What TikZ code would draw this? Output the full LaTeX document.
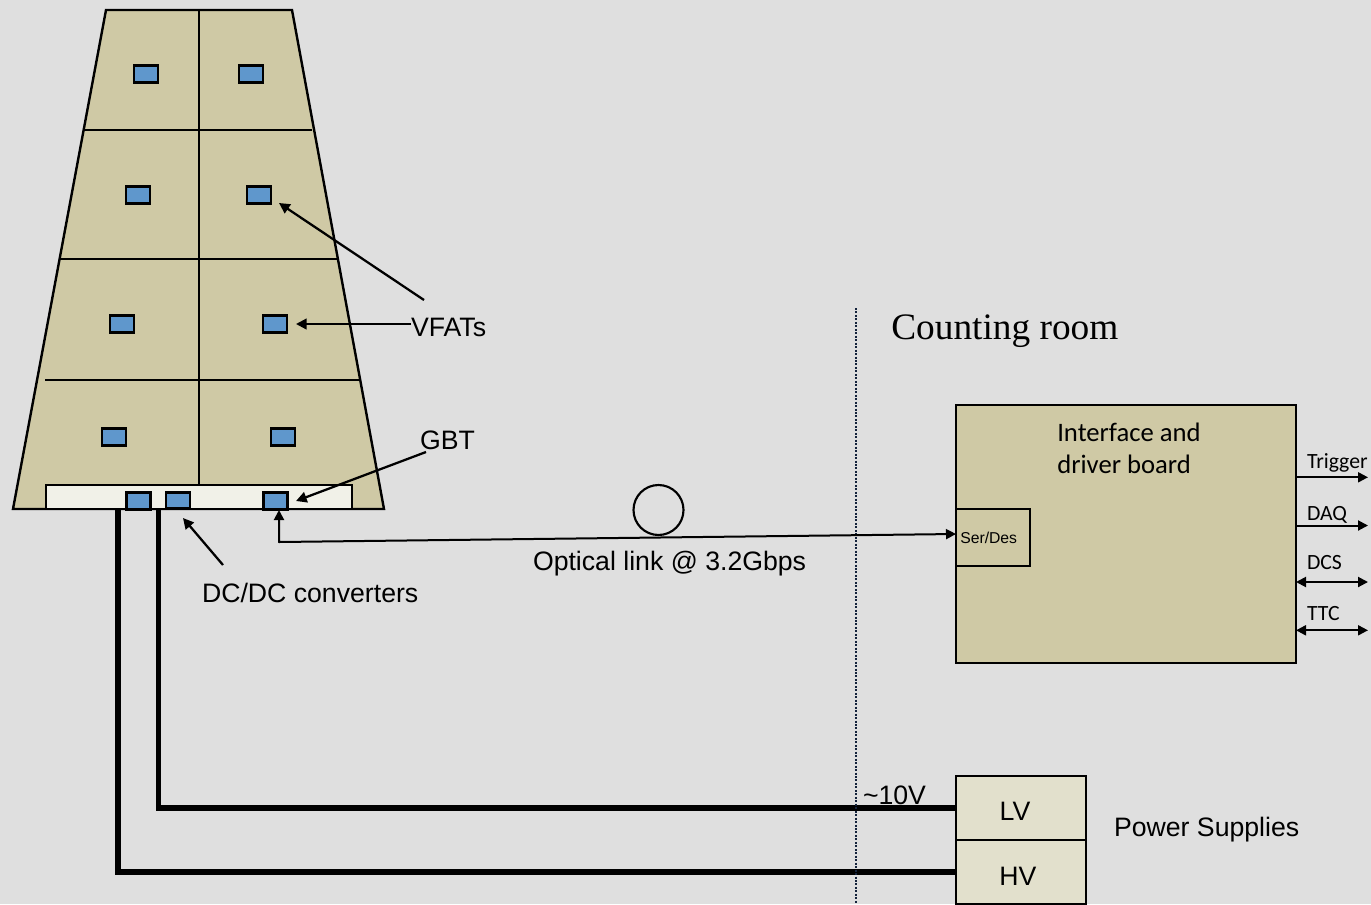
\documentclass[tikz,border=0pt]{standalone}
\usepackage{fontspec}
\setmainfont{Liberation Sans}
\newfontfamily\timesf{Liberation Serif}
\newfontfamily\calib{Carlito}
\usetikzlibrary{arrows.meta}
\definecolor{bgc}{HTML}{DFDFDF}
\definecolor{tan}{HTML}{CFC9A5}
\definecolor{cream}{HTML}{F1F1E8}
\definecolor{pale}{HTML}{E2E0CC}
\definecolor{chipc}{HTML}{5F97CC}
\definecolor{dotc}{HTML}{14233C}
\tikzset{
  x=0.75pt,y=-0.75pt,
  chip/.style={draw=black,fill=chipc,line width=2pt,minimum width=18pt,minimum height=12.3pt,inner sep=0pt,outer sep=0pt},
  outl/.style={draw=black,line width=1.8pt},
  divider/.style={draw=black,line width=1.7pt},
  arr/.style={draw=black,line width=1.7pt,-{Triangle[length=8pt,width=8pt]}},
  arrs/.style={draw=black,line width=1.5pt,-{Triangle[length=7.5pt,width=7.5pt]}},
  arrb/.style={draw=black,line width=1.5pt,{Triangle[length=7.5pt,width=7.5pt]}-{Triangle[length=7.5pt,width=7.5pt]}},
  cable/.style={draw=black,line width=3.8pt},
  lab/.style={inner sep=0pt,outer sep=0pt,anchor=west,font=\fontsize{20}{24}\selectfont},
  clab/.style={inner sep=0pt,outer sep=0pt,anchor=west,font=\calib\fontsize{16.3}{19}\selectfont},
  psu/.style={draw=black,fill=pale,line width=1.8pt,minimum width=97.5pt,minimum height=48pt,inner sep=0pt,outer sep=0pt},
}
\begin{document}
\begin{tikzpicture}
\useasboundingbox (0,0) rectangle (1371,904);
\fill[bgc] (0,0) rectangle (1371,904);
% chamber
\draw[outl,fill=tan,line join=miter] (106,10) -- (292,10) -- (384,509) -- (13,509) -- cycle;
\draw[divider] (84,130) -- (312,130);
\draw[divider] (59,259) -- (338,259);
\draw[divider] (45,380) -- (360,380);
\draw[divider] (199,10) -- (199,485);
\node[draw=black,fill=cream,line width=1.8pt,minimum width=229.5pt,minimum height=18pt,inner sep=0pt,outer sep=0pt] (board) at (199,497) {};
% cables
\coordinate (c1a) at (118,509);
\coordinate (c2a) at (158.5,509);
\coordinate (c1b) at (118,872);
\coordinate (c2b) at (158.5,808);
% chips
\node[chip] (v1) at (146,74) {};
\node[chip] (v2) at (251,74) {};
\node[chip] (v3) at (138,195) {};
\node[chip] (v4) at (259,195) {};
\node[chip] (v5) at (122,324) {};
\node[chip] (v6) at (275,324) {};
\node[chip] (v7) at (114,437) {};
\node[chip] (v8) at (283,437) {};
\node[chip] (d1) at (138.3,501) {};
\node[chip] (d2) at (178,500.5) {};
\node[chip] (gbt) at (275.5,501) {};
% labels
\node[lab] (vfats) at (411,327) {VFATs};
\node[lab] (gbtl) at (420,440) {GBT};
\node[lab] (dcdc) at (202,593) {DC/DC converters};
\node[lab] (opt) at (533,564) {Optical link @ 3.2Gbps};
\node[lab] (tenv) at (863,795) {\char`\~10V};
\node[lab] (psl) at (1114,830) {Power Supplies};
\node[inner sep=0pt,anchor=west,font=\timesf\fontsize{28}{32}\selectfont] (room) at (891,331) {Counting room};
% boxes
\node[draw=black,fill=tan,line width=1.8pt,minimum width=255pt,minimum height=193.5pt,inner sep=0pt,outer sep=0pt] (iface) at (1126,533.7) {};
\node[draw=black,line width=1.7pt,fill=tan,minimum width=55.5pt,minimum height=42.6pt,inner sep=0pt,outer sep=0pt] (serdes) at (993,537.4) {};
\node[inner sep=0pt,anchor=west,font=\fontsize{11.8}{14}\selectfont] (serdesl) at (960,537.5) {Ser/Des};
\node[inner sep=0pt,anchor=north west,align=left,font=\calib\fontsize{20}{24}\selectfont] (ifl) at (1057,423) {Interface and\\driver board};
\node[psu] (lv) at (1021,808) {};
\node[psu] (hv) at (1021,872) {};
\node[lab,anchor=center] (lvl) at (1015,811) {LV};
\node[lab,anchor=center] (hvl) at (1018,876) {HV};
% dotted separator
\coordinate (sep1) at (856,308);
\coordinate (sep2) at (856,904);
% cables to supplies
\draw[cable,line join=miter] (c1a) -- (c1b) -- (hv.west |- c1b);
\draw[cable,line join=miter] (c2a) -- (c2b) -- (lv.west |- c2b);
\draw[draw=dotc,line width=2pt,dash pattern=on 1.5pt off 1.1pt] (sep1) -- (sep2);
% arrows to chips
\coordinate (a1) at (424,300);
\coordinate (a1e) at (279,203);
\coordinate (a3) at (426,452);
\coordinate (a3e) at (296,501);
\coordinate (a4) at (223,565);
\coordinate (a4e) at (183,518);
\coordinate (a2e) at (296,324);
\draw[arr] (a1) -- (a1e);
\draw[arr] (vfats.west |- a2e) -- (a2e);
\draw[arr] (a3) -- (a3e);
\draw[arr] (a4) -- (a4e);
% optical link
\coordinate (bend) at (279,542);
\coordinate (gbtb) at (279,510);
\draw[arrs,{Triangle[length=7.5pt,width=7.5pt]}-{Triangle[length=7.5pt,width=7.5pt]},line join=round] (gbtb) -- (bend) -- (serdes.west |- 0,534);
\node[draw=black,line width=1.6pt,circle,minimum size=37.5pt,inner sep=0pt] (loop) at (658.5,510) {};
% outputs
\coordinate (o1) at (1368,477.3);
\coordinate (o2) at (1368,525.5);
\coordinate (o3) at (1368,582);
\coordinate (o4) at (1368,630.3);
\draw[arrs] (iface.east |- o1) -- (o1);
\draw[arrs] (iface.east |- o2) -- (o2);
\draw[arrb] (iface.east |- o3) -- (o3);
\draw[arrb] (iface.east |- o4) -- (o4);
\node[clab] (tr) at (1307,463) {Trigger};
\node[clab] (da) at (1307,514.5) {DAQ};
\node[clab] (dc) at (1307,563) {DCS};
\node[clab] (tt) at (1307,614) {TTC};
\end{tikzpicture}
\end{document}
